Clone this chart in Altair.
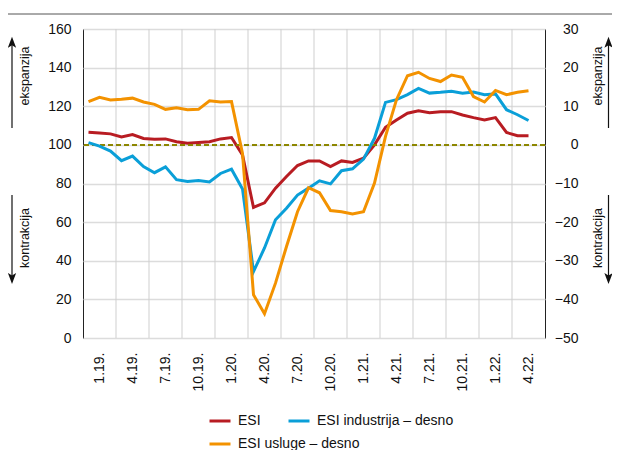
import altair as alt
import pandas as pd

# Months Jan 2019 .. May 2022 (index 0..40)
esi = [106.6, 106.2, 105.7, 104.1, 105.3, 103.3, 102.9, 103.1, 101.6, 100.9, 101.2, 101.6,
       103.1, 103.8, 94.8, 67.6, 70.0, 77.6, 83.6, 89.3, 91.7, 91.7, 88.8, 91.7,
       90.9, 93.1, 100.0, 109.1, 112.9, 116.4, 117.6, 116.7, 117.1, 117.2, 115.5, 114.1,
       112.9, 114.1, 106.4, 104.7, 104.7]
industrija = [0.6, -0.3, -1.6, -4.1, -2.9, -5.6, -7.2, -5.7, -9.0, -9.5, -9.2, -9.6,
              -7.4, -6.3, -11.4, -32.8, -26.7, -19.4, -16.4, -13.0, -11.2, -9.3, -10.1, -6.7,
              -6.2, -3.7, 1.7, 11.0, 11.7, 13.0, 14.6, 13.4, 13.6, 13.9, 13.4, 13.7,
              13.0, 13.2, 9.1, 7.8, 6.3]
usluge = [11.2, 12.3, 11.6, 11.8, 12.1, 11.1, 10.5, 9.2, 9.6, 9.1, 9.2, 11.4,
          11.1, 11.2, -2.2, -38.8, -43.7, -35.8, -26.3, -17.3, -11.1, -12.4, -17.0, -17.3,
          -17.9, -17.3, -9.9, 2.2, 11.7, 17.9, 18.8, 17.2, 16.4, 18.1, 17.5, 12.5,
          11.1, 14.1, 13.0, 13.6, 14.0]
quarter_labels = ["1.19.", "4.19.", "7.19.", "10.19.", "1.20.", "4.20.", "7.20.",
                  "10.20.", "1.21.", "4.21.", "7.21.", "10.21.", "1.22.", "4.22."]
series_names = ["ESI", "ESI industrija – desno", "ESI usluge – desno"]
colors = ["#b81c22", "#0a9fd8", "#f39200"]
left_ticks = list(range(0, 161, 20))
right_ticks = list(range(-50, 31, 10))
reference_level = 100

FONT = "Liberation Sans, Arial, sans-serif"
FS = 14
TXT = "#111"

n_months = 3 * len(quarter_labels)
months_x = [i + 0.5 for i in range(len(esi))]
df_esi = pd.DataFrame({"m": months_x, "val": esi, "series": series_names[0]})
df_ind = pd.DataFrame({"m": months_x, "val": industrija, "series": series_names[1]})
df_usl = pd.DataFrame({"m": months_x, "val": usluge, "series": series_names[2]})
df_grid = pd.DataFrame({"b": list(range(3, n_months, 3))})

label_arr = "[" + ",".join("'%s'" % s for s in quarter_labels) + "]"
xscale = alt.Scale(domain=[0, n_months], nice=False, zero=False)
x_axis = alt.Axis(values=[3 * k + 1.5 for k in range(len(quarter_labels))],
                  labelExpr=label_arr + "[floor(datum.value/3)]",
                  grid=False, ticks=False, tickSize=0, domain=False,
                  labelAngle=270, labelPadding=14, labelFlush=False,
                  labelOverlap=False, labelFont=FONT, labelFontSize=FS,
                  labelColor=TXT)


def xenc(field):
    return alt.X(field, scale=xscale, title=None, axis=x_axis)


def legend(lx, ly):
    return alt.Legend(title=None, orient="none", legendX=lx, legendY=ly,
                      symbolType="stroke", symbolSize=441, symbolStrokeWidth=3,
                      labelFont=FONT, labelFontSize=FS, labelColor=TXT, labelOffset=6)


def series_color(k, lx, ly):
    return alt.Color("series:N", scale=alt.Scale(domain=[series_names[k]], range=[colors[k]]),
                     legend=legend(lx, ly))


vgrid = alt.Chart(df_grid).mark_rule(color="#cfcfcf", strokeWidth=1).encode(x=xenc("b:Q"))

yl_scale = alt.Scale(domain=[0, 160], nice=False)
yl_axis = alt.Axis(orient="left", values=left_ticks, grid=True, gridColor="#dcdcdc",
                   gridWidth=1.5, ticks=False, tickSize=0, domain=False, labelPadding=12,
                   labelOverlap=False, labelFont=FONT, labelFontSize=FS, labelColor=TXT)
esi_line = alt.Chart(df_esi).mark_line(strokeWidth=3).encode(
    x=xenc("m:Q"),
    y=alt.Y("val:Q", scale=yl_scale, title=None, axis=yl_axis),
    color=series_color(0, 125, 380),
)
ref_rule = alt.Chart(df_esi).mark_rule(color="#8c8600", strokeWidth=2, strokeDash=[5, 3]).encode(
    y=alt.Y("r:Q", scale=yl_scale, title=None, axis=yl_axis)
).transform_aggregate(cnt="count()").transform_calculate(r=str(reference_level))
left_layer = alt.layer(esi_line, ref_rule)

yr_scale = alt.Scale(domain=[-50, 30], nice=False)
yr_axis = alt.Axis(orient="right", values=right_ticks, grid=False, ticks=False, tickSize=0,
                   domain=False, labelPadding=33, labelAlign="right", labelOverlap=False,
                   labelFont=FONT, labelFontSize=FS, labelColor=TXT)
ind_line = alt.Chart(df_ind).mark_line(strokeWidth=3).encode(
    x=xenc("m:Q"),
    y=alt.Y("val:Q", scale=yr_scale, title=None, axis=yr_axis),
    color=series_color(1, 204, 380),
)
usl_line = alt.Chart(df_usl).mark_line(strokeWidth=3).encode(
    x=xenc("m:Q"),
    y=alt.Y("val:Q", scale=yr_scale, title=None, axis=yr_axis),
    color=series_color(2, 125, 403),
)
right_layer = alt.layer(ind_line, usl_line).resolve_scale(color="independent")

one = alt.Data(values=[{"a": 1}])


def txt(s, x, y):
    return alt.Chart(one).mark_text(angle=270, font=FONT, fontSize=12.5, color=TXT,
                                    align="center", baseline="middle").encode(
        x=alt.value(x), y=alt.value(y), text=alt.value(s))


def shaft(x, y1, y2):
    return alt.Chart(one).mark_rule(color=TXT, strokeWidth=1.2).encode(
        x=alt.value(x), y=alt.value(y1), y2=alt.value(y2))


def head(x, y, up):
    shape = "M0,-1L0.75,1L0,0.55L-0.75,1Z" if up else "M0,1L0.75,-1L0,-0.55L-0.75,-1Z"
    return alt.Chart(one).mark_point(shape=shape, filled=True, size=121, color=TXT,
                                     opacity=1).encode(
        x=alt.value(x), y=alt.value(y))


annots = []
for ax, tx in [(-71, -58), (525.5, 515)]:
    annots += [txt("ekspanzija", tx, 47), shaft(ax, 14, 99), head(ax, 13.2, True),
               txt("kontrakcija", tx, 209), shaft(ax, 166, 250), head(ax, 249.5, False)]
top_line = alt.Chart(one).mark_rule(color="#555", strokeWidth=1).encode(
    x=alt.value(-76), x2=alt.value(545), y=alt.value(-15))

chart = alt.layer(vgrid, left_layer, right_layer, top_line, *annots).resolve_scale(
    y="independent", color="independent"
).properties(
    width=462, height=309,
    padding={"left": 75, "top": 21, "right": 67, "bottom": 112},
    autosize=alt.AutoSizeParams(type="none"),
).configure_view(stroke="#222", strokeWidth=1)

chart.save("out.html", embed_options={"renderer": "svg", "actions": False})
